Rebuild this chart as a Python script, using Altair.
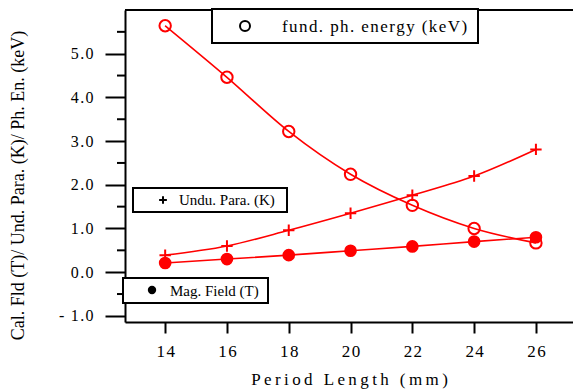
import altair as alt
import pandas as pd

HS = "\u200a"   # hair space (letter spacing)
TS = "\u2009"   # thin space

period = [14, 16, 18, 20, 22, 24, 26]
energy = [5.64, 4.46, 3.22, 2.24, 1.53, 1.00, 0.67]
k_param = [0.39, 0.60, 0.96, 1.35, 1.76, 2.20, 2.81]
field = [0.21, 0.30, 0.39, 0.49, 0.59, 0.70, 0.80]
series_names = ["energy", "K", "field"]
legend_labels = ["fund. ph. energy (keV)", "Undu. Para. (K)", "Mag. Field (T)"]
y_major = [-1, 0, 1, 2, 3, 4, 5]
y_minor = [-0.5, 0.5, 1.5, 2.5, 3.5, 4.5, 5.5]
x_title = "Period Length (mm)"
y_title = "Cal. Fld (T)/ Und. Para. (K)/ Ph. En. (keV)"

df = pd.DataFrame({
    "period": period * 3,
    "value": energy + k_param + field,
    "series": [series_names[0]] * 7 + [series_names[1]] * 7 + [series_names[2]] * 7,
})

FONT = "Liberation Serif"
W, H = 448, 312
xs = alt.Scale(domain=[12.7, 27.2], nice=False, zero=False)
ys = alt.Scale(domain=[-1.14, 6.0], nice=False, zero=False)

x_axis = alt.Axis(
    values=period, grid=False,
    title=TS.join(list(x_title)),
    labelExpr="join(split(datum.label, ''), '" + HS + "')",
    tickSize=11, tickWidth=2, tickColor="black",
    domainWidth=2, domainColor="black",
    labelFont=FONT, labelFontSize=17, labelColor="black", labelPadding=10,
    titleFont=FONT, titleFontSize=17, titleFontWeight="normal", titleColor="black",
    titleY=62, titleBaseline="alphabetic",
)
y_axis = alt.Axis(
    values=y_major, grid=False,
    title=y_title,
    labelExpr="(datum.value < 0 ? '-" + TS + TS + "' : '') + join(split(format(abs(datum.value), '.1f'), ''), '" + HS + "')",
    tickSize=20, tickWidth=2, tickColor="black",
    domainWidth=2, domainColor="black",
    labelFont=FONT, labelFontSize=16, labelColor="black", labelPadding=12,
    titleFont=FONT, titleFontSize=18, titleFontWeight="normal", titleColor="black",
    titleX=-107, titleY=175, titleAngle=270, titleAlign="center", titleBaseline="middle",
)

X = alt.X("period:Q", scale=xs, axis=x_axis)
Y = alt.Y("value:Q", scale=ys, axis=y_axis)

lines = alt.Chart(df).mark_line(color="red", strokeWidth=1.6, interpolate="monotone").encode(
    x=X, y=Y, detail="series:N",
)

def pts(name, **kw):
    return alt.Chart(df).transform_filter(alt.datum.series == name).mark_point(**kw).encode(x=X, y=Y)

p_energy = pts("energy", shape="circle", filled=False, color="red", strokeWidth=2, size=130, opacity=1)
p_k = pts("K", shape="M-1,0H1M0,-1V1", filled=False, color="red", strokeWidth=2, size=130, opacity=1)
p_field = pts("field", shape="circle", filled=True, color="red", size=160, opacity=1)

minor = alt.Chart(pd.DataFrame({"value": y_minor})).mark_rule(color="black", strokeWidth=2).encode(
    y=Y, x=alt.value(-8), x2=alt.value(0)
)

one = pd.DataFrame({"a": [0]})
top_border = alt.Chart(one).mark_rule(color="black", strokeWidth=2).encode(
    x=alt.value(0), x2=alt.value(W), y=alt.value(0)
)

def box(x1, x2, y1, y2):
    return alt.Chart(one).mark_rect(fill="white", stroke="black", strokeWidth=2).encode(
        x=alt.value(x1), x2=alt.value(x2), y=alt.value(y1), y2=alt.value(y2)
    )

def label(i, x, y, size, spacing):
    txt = spacing.join(list(legend_labels[i])) if spacing else legend_labels[i]
    return alt.Chart(pd.DataFrame({"t": [txt]})).mark_text(
        align="left", baseline="middle", font=FONT, fontSize=size, color="black"
    ).encode(x=alt.value(x), y=alt.value(y), text="t:N")

def sym(x, y, **kw):
    return alt.Chart(one).mark_point(opacity=1, color="black", **kw).encode(x=alt.value(x), y=alt.value(y))

legend_layers = [
    box(87, 353, -1, 33),
    sym(120, 16, shape="circle", filled=False, strokeWidth=2, size=100),
    label(0, 157, 17, 17, HS),
    box(8, 162, 178, 202),
    sym(38, 190, shape="M-1,0H1M0,-1V1", filled=False, strokeWidth=2, size=60),
    label(1, 54, 190, 15, None),
    box(-2, 143, 268, 293),
    sym(27, 280, shape="circle", filled=True, size=70),
    label(2, 45, 281, 15, None),
]

chart = alt.layer(
    lines, minor, top_border, p_energy, p_k, p_field, *legend_layers
).properties(
    width=W, height=H,
    autosize=alt.AutoSizeParams(type="none"),
    padding={"left": 125, "top": 10, "right": 0, "bottom": 67},
).configure_view(stroke=None).configure(background="white")

chart.save("out.html", embed_options={"renderer": "svg", "actions": False})
